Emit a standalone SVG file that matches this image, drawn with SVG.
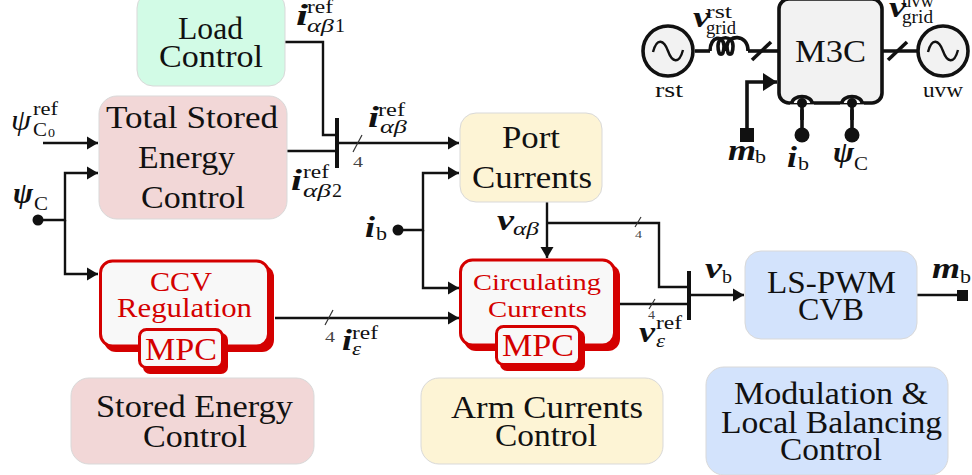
<svg xmlns="http://www.w3.org/2000/svg" width="972" height="475" viewBox="0 0 972 475">
<style>
text{font-family:"Liberation Serif","Times New Roman",serif;fill:#111}
.t{font-size:32px}
.r{fill:#d40000}
.box{stroke:#d9d9d9;stroke-width:1}
.red{fill:#f8f8f8;stroke:#d40000;stroke-width:3}
.sh{fill:#d40000}
.l{fill:none;stroke:#111;stroke-width:2.4}
.k{fill:none;stroke:#111;stroke-width:3.6}
.bar{fill:none;stroke:#111;stroke-width:4}
.tick{fill:none;stroke:#333;stroke-width:1.2}
.m{font-size:29px;font-weight:bold;font-style:italic}
.s{font-size:19px}
.si{font-size:19px;font-style:italic}
.n{font-size:15px;fill:#444}
.u{font-size:21px}
</style>
<defs>
<marker id="a" markerUnits="userSpaceOnUse" markerWidth="12" markerHeight="14" refX="11" refY="7" orient="auto"><path d="M0 0L11 6.5L0 13Z" transform="translate(0 .5)" fill="#111"/></marker>
<marker id="b" markerUnits="userSpaceOnUse" markerWidth="15" markerHeight="18" refX="14" refY="9" orient="auto"><path d="M0 0L14 9L0 18Z" fill="#111"/></marker>
</defs>

<g id="connectors">
<path class="l" d="M285 42H323V135H337"/>
<path class="l" d="M287 151H337"/>
<path class="bar" d="M337 118V168"/>
<path class="l" marker-end="url(#a)" d="M337 143H459"/>
<path class="tick" d="M353 152L362 135"/>
<path class="l" marker-end="url(#a)" d="M43 143H98"/>
<circle cx="38" cy="220" r="5.5" fill="#111"/>
<path class="l" marker-end="url(#a)" d="M38 220H65V173H98"/>
<path class="l" marker-end="url(#a)" d="M65 220V274H98"/>
<path class="l" marker-end="url(#a)" d="M275 318H459"/>
<path class="tick" d="M325 325L333 310"/>
<circle cx="398" cy="230" r="5.5" fill="#111"/>
<path class="l" marker-end="url(#a)" d="M398 230H423V173H459"/>
<path class="l" marker-end="url(#a)" d="M423 230V288H459"/>
<path class="l" marker-end="url(#a)" d="M547 201V258"/>
<path class="l" d="M547 223H659V287H688"/>
<path class="tick" d="M635 227L641 217"/>
<path class="l" d="M618 304H688"/>
<path class="tick" d="M649 309L655 299"/>
<path class="bar" d="M689 271V320"/>
<path class="l" marker-end="url(#a)" d="M689 295H744"/>
<path class="l" d="M917 295H958"/>
<rect x="957" y="290" width="11" height="11" fill="#111"/>
<path class="k" d="M695 51H710"/>
<path class="k" d="M748 51H779"/>
<path class="k" d="M752 60L771 42"/>
<path class="k" d="M882 51H917"/>
<path class="k" d="M888 60L907 42"/>
<path class="k" marker-end="url(#b)" d="M747 130V82H777"/>
<rect x="740" y="128" width="14" height="14" fill="#111"/>
<path class="k" d="M802 103V135"/>
<circle cx="802" cy="135" r="7.5" fill="#111"/>
<path class="k" d="M852 103V135"/>
<circle cx="852" cy="135" r="7.5" fill="#111"/>
</g>

<g id="load-control"><rect class="box" x="137" y="-8" width="148" height="94" rx="16" fill="#d2fbe6"/>
<text class="t" x="178" y="39" textLength="65" lengthAdjust="spacingAndGlyphs">Load</text><text class="t" x="159" y="67" textLength="104" lengthAdjust="spacingAndGlyphs">Control</text></g>

<g id="total-stored-energy"><rect class="box" x="99" y="96" width="188" height="123" rx="18" fill="#f2d7d7"/>
<text class="t" x="106" y="128" textLength="172" lengthAdjust="spacingAndGlyphs">Total Stored</text><text class="t" x="138" y="168" textLength="97" lengthAdjust="spacingAndGlyphs">Energy</text><text class="t" x="141" y="208" textLength="104" lengthAdjust="spacingAndGlyphs">Control</text></g>

<g id="ccv-regulation">
<rect class="sh" x="104" y="265" width="170" height="87" rx="12"/>
<rect class="red" x="100.500" y="261" width="168" height="85" rx="12"/>
<text class="t r" x="150" y="291" style="font-size:27px" textLength="62" lengthAdjust="spacingAndGlyphs">CCV</text>
<text class="t r" x="117" y="317" style="font-size:27px" textLength="135" lengthAdjust="spacingAndGlyphs">Regulation</text>
<rect class="sh" x="143" y="333" width="85" height="41" rx="7"/>
<rect class="red" x="139.500" y="329.500" width="83" height="38" rx="7"/>
<text class="t r" x="145" y="360" textLength="72" lengthAdjust="spacingAndGlyphs">MPC</text></g>

<g id="stored-energy-control"><rect class="box" x="71" y="378" width="243" height="86" rx="18" fill="#f2d7d7"/>
<text class="t" x="96" y="417" textLength="197" lengthAdjust="spacingAndGlyphs">Stored Energy</text><text class="t" x="143" y="447" textLength="104" lengthAdjust="spacingAndGlyphs">Control</text></g>

<g id="port-currents"><rect class="box" x="460" y="113" width="142" height="89" rx="16" fill="#fdf4d5"/>
<text class="t" x="502" y="148" textLength="58" lengthAdjust="spacingAndGlyphs">Port</text><text class="t" x="472" y="188" textLength="120" lengthAdjust="spacingAndGlyphs">Currents</text></g>

<g id="circulating-currents">
<rect class="sh" x="464" y="264" width="156" height="87" rx="12"/>
<rect class="red" x="460.500" y="260" width="154" height="85" rx="12"/>
<text class="t r" x="473" y="290" style="font-size:24px" textLength="128" lengthAdjust="spacingAndGlyphs">Circulating</text>
<text class="t r" x="488" y="317" style="font-size:24px" textLength="99" lengthAdjust="spacingAndGlyphs">Currents</text>
<rect class="sh" x="500" y="330" width="85" height="41" rx="7"/>
<rect class="red" x="496.500" y="326.500" width="83" height="38" rx="7"/>
<text class="t r" x="502" y="356" textLength="72" lengthAdjust="spacingAndGlyphs">MPC</text></g>

<g id="arm-currents-control"><rect class="box" x="421" y="378" width="242" height="86" rx="18" fill="#fdf4d5"/>
<text class="t" x="451" y="418" textLength="192" lengthAdjust="spacingAndGlyphs">Arm Currents</text><text class="t" x="495" y="446" textLength="102" lengthAdjust="spacingAndGlyphs">Control</text></g>

<g id="ls-pwm-cvb"><rect class="box" x="745" y="251" width="172" height="88" rx="16" fill="#d3e3fc"/>
<text class="t" x="767" y="293" textLength="129" lengthAdjust="spacingAndGlyphs">LS-PWM</text><text class="t" x="798" y="320" textLength="66" lengthAdjust="spacingAndGlyphs">CVB</text></g>

<g id="modulation-control"><rect class="box" x="706" y="367" width="242" height="108" rx="18" fill="#d3e3fc"/>
<text class="t" x="734" y="404" textLength="194" lengthAdjust="spacingAndGlyphs">Modulation &amp;</text><text class="t" x="721" y="433" textLength="221" lengthAdjust="spacingAndGlyphs">Local Balancing</text><text class="t" x="780" y="460" textLength="102" lengthAdjust="spacingAndGlyphs">Control</text></g>

<g id="m3c"><rect x="779" y="-1" width="103" height="104" rx="10" fill="#f2f2f2" stroke="#111" stroke-width="3.6"/>
<path d="M792 103a10 6.500 0 0 1 20 0M842 103a10 6.500 0 0 1 20 0" fill="#fff" stroke="#111" stroke-width="3.6"/>
<rect x="790" y="104.500" width="24" height="5" fill="#fff"/><rect x="840" y="104.500" width="24" height="5" fill="#fff"/>
<path class="k" d="M802 103V120M852 103V120"/>
<circle cx="802" cy="103" r="5" fill="#111"/><circle cx="852" cy="103" r="5" fill="#111"/>
<text class="t" x="795" y="62" textLength="71" lengthAdjust="spacingAndGlyphs">M3C</text></g>

<g id="source-rst"><circle cx="668" cy="51" r="25" fill="#f2f2f2" stroke="#111" stroke-width="3.6"/>
<path class="k" style="stroke-width:2.400" d="M653 52C657 37 664 40 668 51S679 65 683 50"/>
<text class="u" x="655" y="97" textLength="28" lengthAdjust="spacingAndGlyphs">rst</text></g>

<g id="inductor"><path class="k" d="M710 51C710 35 724 35 724 46C724 57 718 57 718 46C718 35 733 35 733 46C733 57 727 57 727 46C727 35 748 33 748 51"/></g>

<g id="source-uvw"><circle cx="943" cy="51" r="25" fill="#f2f2f2" stroke="#111" stroke-width="3.6"/>
<path class="k" style="stroke-width:2.400" d="M928 52C932 37 939 40 943 51S954 65 958 50"/>
<text class="u" x="923" y="97" textLength="40" lengthAdjust="spacingAndGlyphs">uvw</text></g>

<g id="labels">
<text class="m" x="296" y="25" textLength="12" lengthAdjust="spacingAndGlyphs">i</text><text class="s" x="307" y="13" textLength="26" lengthAdjust="spacingAndGlyphs">ref</text><text class="si" x="307" y="32" textLength="27" lengthAdjust="spacingAndGlyphs">αβ</text><text class="s" x="335" y="32" textLength="10" lengthAdjust="spacingAndGlyphs">1</text>
<text class="m" x="368" y="127" textLength="11" lengthAdjust="spacingAndGlyphs">i</text><text class="s" x="378" y="116" textLength="27" lengthAdjust="spacingAndGlyphs">ref</text><text class="si" x="380" y="133" textLength="27" lengthAdjust="spacingAndGlyphs">αβ</text>
<text class="m" x="291" y="190" textLength="11" lengthAdjust="spacingAndGlyphs">i</text><text class="s" x="303" y="178" textLength="26" lengthAdjust="spacingAndGlyphs">ref</text><text class="si" x="303" y="197" textLength="28" lengthAdjust="spacingAndGlyphs">αβ</text><text class="s" x="332" y="197" textLength="10" lengthAdjust="spacingAndGlyphs">2</text>
<text class="n" x="353" y="167" textLength="10" lengthAdjust="spacingAndGlyphs">4</text><text class="n" x="325" y="342" textLength="10" lengthAdjust="spacingAndGlyphs">4</text>
<text x="11" y="130" style="font-size:29px;font-style:italic" textLength="20" lengthAdjust="spacingAndGlyphs">ψ</text><text class="s" x="33" y="115" textLength="25" lengthAdjust="spacingAndGlyphs">ref</text><text class="s" x="33" y="136" textLength="14" lengthAdjust="spacingAndGlyphs">C</text><text x="48" y="137" style="font-size:12px" textLength="7" lengthAdjust="spacingAndGlyphs">0</text>
<text class="m" x="13" y="203" textLength="20" lengthAdjust="spacingAndGlyphs">ψ</text><text class="s" x="34" y="210" textLength="14" lengthAdjust="spacingAndGlyphs">C</text>
<text class="m" x="342" y="350" textLength="10" lengthAdjust="spacingAndGlyphs">i</text><text class="s" x="352" y="339" textLength="26" lengthAdjust="spacingAndGlyphs">ref</text><text class="si" x="352" y="355" textLength="9" lengthAdjust="spacingAndGlyphs">ε</text>
<text class="m" x="365" y="237" textLength="10" lengthAdjust="spacingAndGlyphs">i</text><text class="s" x="376" y="240" textLength="11" lengthAdjust="spacingAndGlyphs">b</text>
<text class="m" x="497" y="230" textLength="17" lengthAdjust="spacingAndGlyphs">v</text><text class="si" x="513" y="235" textLength="26" lengthAdjust="spacingAndGlyphs">αβ</text>
<text class="m" x="705" y="278" textLength="17" lengthAdjust="spacingAndGlyphs">v</text><text class="s" x="722" y="283" textLength="10" lengthAdjust="spacingAndGlyphs">b</text>
<text class="m" x="639" y="342" textLength="16" lengthAdjust="spacingAndGlyphs">v</text><text class="s" x="656" y="329" textLength="26" lengthAdjust="spacingAndGlyphs">ref</text><text class="si" x="656" y="347" textLength="9" lengthAdjust="spacingAndGlyphs">ε</text>
<text class="n" x="648" y="319" style="font-size:13px" textLength="7" lengthAdjust="spacingAndGlyphs">4</text><text class="n" x="635" y="238" style="font-size:11px" textLength="7" lengthAdjust="spacingAndGlyphs">4</text>
<text class="m" x="932" y="278" textLength="28" lengthAdjust="spacingAndGlyphs">m</text><text class="s" x="960" y="283" textLength="11" lengthAdjust="spacingAndGlyphs">b</text>
<text class="m" x="693" y="27" textLength="17" lengthAdjust="spacingAndGlyphs">v</text><text class="s" x="706" y="18" textLength="26" lengthAdjust="spacingAndGlyphs">rst</text><text class="s" x="706" y="34" textLength="30" lengthAdjust="spacingAndGlyphs">grid</text>
<text class="m" x="889" y="17" textLength="17" lengthAdjust="spacingAndGlyphs">v</text><text class="s" x="902" y="7" textLength="32" lengthAdjust="spacingAndGlyphs">uvw</text><text class="s" x="902" y="23" textLength="31" lengthAdjust="spacingAndGlyphs">grid</text>
<text class="m" x="728" y="160" textLength="28" lengthAdjust="spacingAndGlyphs">m</text><text class="s" x="755" y="163" textLength="11" lengthAdjust="spacingAndGlyphs">b</text>
<text class="m" x="787" y="167" textLength="10" lengthAdjust="spacingAndGlyphs">i</text><text class="s" x="798" y="170" textLength="11" lengthAdjust="spacingAndGlyphs">b</text>
<text class="m" x="833" y="162" textLength="21" lengthAdjust="spacingAndGlyphs">ψ</text><text class="s" x="854" y="170" textLength="14" lengthAdjust="spacingAndGlyphs">C</text>
</g>
</svg>
